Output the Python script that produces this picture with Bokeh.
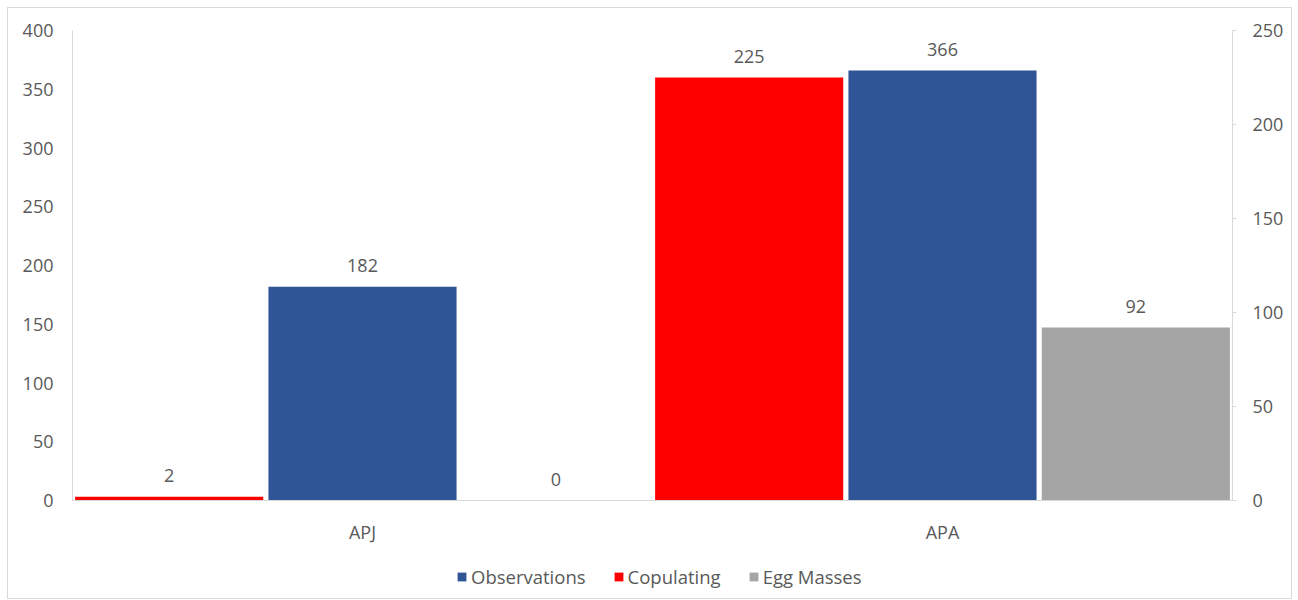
from bokeh.plotting import figure
from bokeh.layouts import column
from bokeh.models import (FactorRange, Range1d, LinearAxis, FixedTicker, ColumnDataSource,
                          Legend, LegendItem)
from bokeh.transform import dodge
from bokeh.core.properties import value
from bokeh.embed import file_html
from bokeh.resources import INLINE

categories = ["APJ", "APA"]
copulating = [2, 225]      # right axis
observations = [182, 366]  # left axis
egg_masses = [0, 92]       # right axis
left_ticks = [0, 50, 100, 150, 200, 250, 300, 350, 400]
right_ticks = [0, 50, 100, 150, 200, 250]
series_names = ["Observations", "Copulating", "Egg Masses"]

RED = "#FF0000"
BLUE = "#2F5597"
GRAY = "#A5A5A5"
TXT = "#595959"
AX = "#D9D9D9"
FONT = "Open Sans"
FS = "18px"

src = ColumnDataSource(dict(
    cat=categories, cop=copulating, obs=observations, egg=egg_masses,
    cop_t=[str(v) for v in copulating], obs_t=[str(v) for v in observations],
    egg_t=[str(v) for v in egg_masses]))

p = figure(x_range=FactorRange(*categories, range_padding=0, factor_padding=0),
           y_range=Range1d(0, 400), width=1283, height=538,
           output_backend="svg", toolbar_location=None,
           min_border_left=64, min_border_right=59, min_border_top=22, min_border_bottom=44)
p.extra_y_ranges = {"right": Range1d(0, 250)}

p.xgrid.visible = False
p.ygrid.visible = False
p.outline_line_color = None

w = 1 / 3 - 0.009
r_cop = p.vbar(x=dodge("cat", -1 / 3, range=p.x_range), top="cop", width=w, source=src,
               fill_color=RED, line_color=None, y_range_name="right")
r_obs = p.vbar(x=dodge("cat", 0, range=p.x_range), top="obs", width=w, source=src,
               fill_color=BLUE, line_color=None)
r_egg = p.vbar(x=dodge("cat", 1 / 3, range=p.x_range), top="egg", width=w, source=src,
               fill_color=GRAY, line_color=None, y_range_name="right")

for off, col, txt, rng in [(-1 / 3, "cop", "cop_t", "right"), (0, "obs", "obs_t", "default"),
                           (1 / 3, "egg", "egg_t", "right")]:
    p.text(x=dodge("cat", off, range=p.x_range), y=col, text=txt, source=src,
           y_range_name=rng, text_align="center", text_baseline="middle", y_offset=-21,
           text_font=value(FONT), text_font_size=FS, text_color=TXT)

# left axis
ya = p.yaxis[0]
ya.ticker = FixedTicker(ticks=left_ticks)
ya.axis_line_color = AX
ya.major_tick_line_color = None
ya.major_tick_in = 0
ya.major_tick_out = 0
ya.minor_tick_line_color = None
ya.major_label_text_font = FONT
ya.major_label_text_font_size = FS
ya.major_label_text_color = TXT
ya.major_label_standoff = 19

# right axis
ra = LinearAxis(y_range_name="right", ticker=FixedTicker(ticks=right_ticks))
ra.axis_line_color = AX
ra.major_tick_line_color = AX
ra.major_tick_in = 0
ra.major_tick_out = 4
ra.minor_tick_line_color = None
ra.major_label_text_font = FONT
ra.major_label_text_font_size = FS
ra.major_label_text_color = TXT
ra.major_label_standoff = 16
p.add_layout(ra, "right")

xa = p.xaxis[0]
xa.axis_line_color = AX
xa.major_tick_line_color = None
xa.major_tick_in = 0
xa.major_tick_out = 0
xa.minor_tick_line_color = None
xa.major_label_text_font = FONT
xa.major_label_text_font_size = FS
xa.major_label_text_color = TXT
xa.major_label_standoff = 19

# legend strip below the chart (keys drawn off-range; only their legend swatches show)
lg = figure(width=1283, height=52, x_range=Range1d(0, 1), y_range=Range1d(0, 1),
            output_backend="svg", toolbar_location=None,
            x_axis_location=None, y_axis_location=None,
            min_border_left=0, min_border_right=0, min_border_top=0, min_border_bottom=0)
lg.grid.visible = False
lg.outline_line_color = None
k_obs = lg.vbar(x=[-5], top=[0], width=0.1, fill_color=BLUE, line_color=None)
k_cop = lg.vbar(x=[-5], top=[0], width=0.1, fill_color=RED, line_color=None)
k_egg = lg.vbar(x=[-5], top=[0], width=0.1, fill_color=GRAY, line_color=None)

legend = Legend(items=[LegendItem(label=series_names[0], renderers=[k_obs]),
                       LegendItem(label=series_names[1], renderers=[k_cop]),
                       LegendItem(label=series_names[2], renderers=[k_egg])],
                orientation="horizontal", location=(384, 9),
                label_text_font=FONT, label_text_font_size="18.5px", label_text_color=TXT,
                glyph_width=11, glyph_height=11, spacing=27, label_standoff=4,
                border_line_color=None, background_fill_alpha=0, margin=0, padding=4)
lg.add_layout(legend, "center")

layout = column(p, lg, spacing=0, margin=(7, 0, 0, 7),
                styles={"border": "1px solid #D9D9D9"})
open("out.html", "w").write(file_html(layout, INLINE))
